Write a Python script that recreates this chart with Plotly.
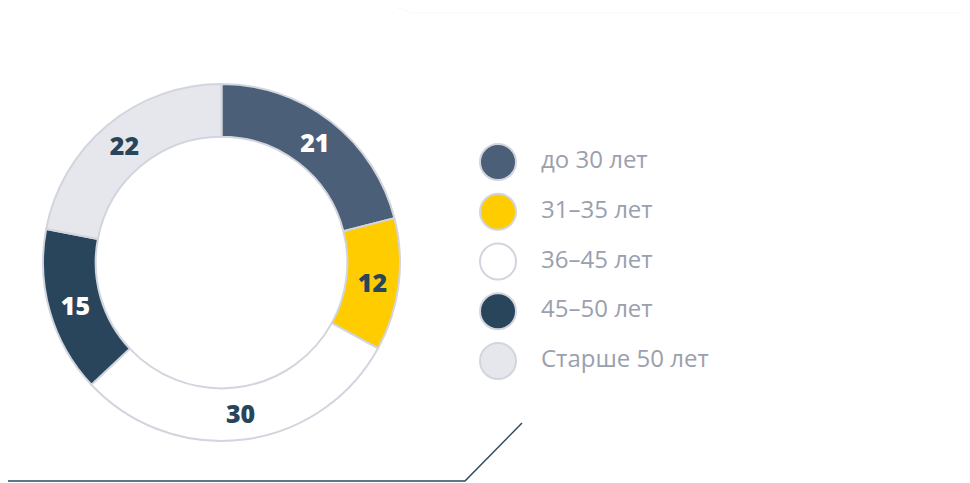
import plotly.graph_objects as go

# page body has an 8px margin, so the figure is drawn 8px smaller and everything
# is positioned in screen pixels minus that offset
OFF = 8
W, H = 970 - OFF, 483 - OFF

labels = ["до 30 лет", "31–35 лет", "36–45 лет", "45–50 лет", "Старше 50 лет"]
values = [21, 12, 30, 15, 22]
colors = ["#4b5f78", "#ffcc00", "#ffffff", "#28455c", "#e6e7ed"]
text_colors = ["#ffffff", "#28455c", "#28455c", "#ffffff", "#28455c"]

legend_pos = list(range(len(labels)))


def px_x(v):
    return (v - OFF) / W


def px_y(v):
    return 1 - (v - OFF) / H


fig = go.Figure()

fig.add_trace(go.Pie(
    labels=labels,
    values=values,
    sort=False,
    direction="clockwise",
    rotation=0,
    hole=0.705,
    marker=dict(colors=colors, line=dict(color="#d2d5de", width=2)),
    texttemplate="%{value}",
    textposition="inside",
    insidetextorientation="horizontal",
    textfont=dict(family="Open Sans", size=25, color=text_colors, weight=800),
    domain=dict(x=[px_x(43), px_x(400)], y=[px_y(441), px_y(84)]),
    showlegend=False,
    hoverinfo="label+value",
))

# legend drawn as a scatter so the circles can be large
fig.add_trace(go.Scatter(
    x=[498 - OFF] * len(labels),
    y=legend_pos,
    mode="markers",
    marker=dict(size=36, color=colors, line=dict(color="#d2d5de", width=2)),
    showlegend=False,
    hoverinfo="skip",
))
fig.add_trace(go.Scatter(
    x=[541 - OFF] * len(labels),
    y=legend_pos,
    mode="text",
    text=labels,
    textposition="middle right",
    textfont=dict(family="Open Sans", size=24, color="#9aa0ae"),
    showlegend=False,
    hoverinfo="skip",
))

step = (361 - 162) / 4
top = (162 - OFF) / step
fig.update_xaxes(range=[0, W], visible=False, fixedrange=True)
fig.update_yaxes(range=[(H - (162 - OFF)) / step, -top], visible=False, fixedrange=True)

# decorative frame lines
fig.add_shape(type="path", xref="paper", yref="paper",
              path=f"M 0 {px_y(481)} L {px_x(465)} {px_y(481)} L {px_x(522)} {px_y(423)}",
              line=dict(color="#2d4a5e", width=1.5))
fig.add_shape(type="path", xref="paper", yref="paper",
              path=f"M {px_x(398)} 1 L {px_x(412)} {px_y(13)} L 1 {px_y(13)}",
              line=dict(color="#f7f7f7", width=1))

fig.update_layout(
    width=W, height=H,
    margin=dict(l=0, r=0, t=0, b=0),
    paper_bgcolor="#ffffff",
    plot_bgcolor="rgba(0,0,0,0)",
    font=dict(family="Open Sans"),
)

fig.write_html("out.html")
